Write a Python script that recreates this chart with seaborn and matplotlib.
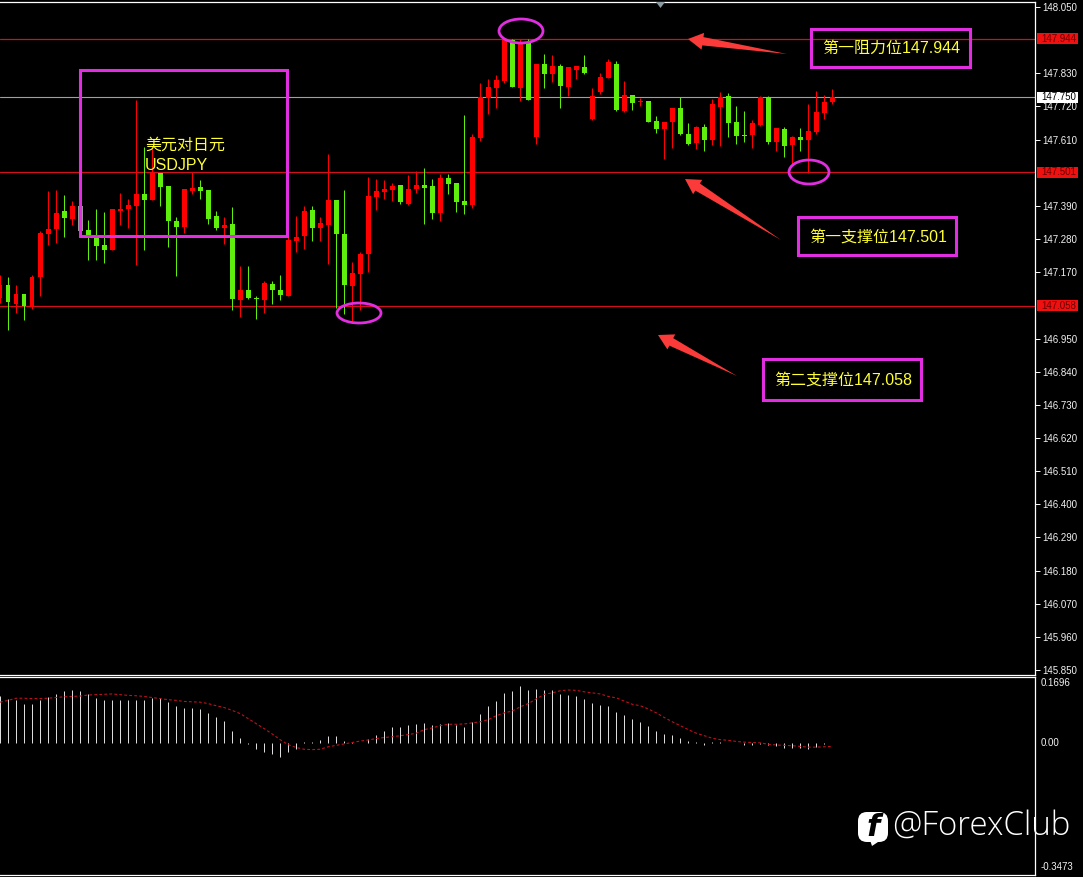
import numpy as np
import pandas as pd
import matplotlib
matplotlib.use("Agg")
import matplotlib.pyplot as plt
from matplotlib.patches import Rectangle, Ellipse, Polygon, FancyBboxPatch
from matplotlib.transforms import blended_transform_factory
import seaborn as sns

# ---- candles: (open, high, low, close) ----
OPEN = [147.083,147.128,147.065,147.098,147.056,147.153,147.297,147.312,147.372,147.348,
        147.390,147.309,147.283,147.259,147.244,147.373,147.380,147.391,147.430,147.410,
        147.500,147.456,147.340,147.321,147.440,147.454,147.443,147.357,147.317,147.330,
        147.079,147.111,147.085,147.079,147.131,147.111,147.092,147.275,147.290,147.377,
        147.317,147.327,147.410,147.297,147.124,147.164,147.231,147.420,147.436,147.443,
        147.460,147.396,147.446,147.458,147.456,147.367,147.483,147.466,147.406,147.393,
        147.614,147.749,147.781,147.805,147.941,147.781,147.930,147.619,147.861,147.828,
        147.854,147.785,147.841,147.851,147.679,147.768,147.815,147.861,147.705,147.758,
        147.735,147.738,147.672,147.645,147.669,147.715,147.629,147.599,147.652,147.609,
        147.719,147.755,147.669,147.625,147.625,147.659,147.750,147.602,147.645,147.592,
        147.619,147.609,147.635,147.698,147.735]
HIGH = [147.161,147.155,147.126,147.098,147.161,147.308,147.440,147.443,147.426,147.406,
        147.390,147.343,147.380,147.370,147.379,147.434,147.413,147.742,147.587,147.581,
        147.500,147.456,147.354,147.446,147.504,147.476,147.443,147.373,147.354,147.388,
        147.191,147.191,147.091,147.141,147.141,147.161,147.288,147.357,147.390,147.390,
        147.354,147.562,147.410,147.443,147.203,147.238,147.487,147.479,147.476,147.467,
        147.460,147.493,147.506,147.516,147.479,147.496,147.496,147.466,147.692,147.629,
        147.798,147.811,147.825,147.944,147.944,147.944,147.944,147.861,147.894,147.891,
        147.861,147.851,147.854,147.891,147.781,147.831,147.878,147.871,147.805,147.758,
        147.748,147.738,147.689,147.669,147.715,147.752,147.665,147.655,147.662,147.745,
        147.768,147.765,147.722,147.705,147.675,147.755,147.755,147.649,147.652,147.622,
        147.649,147.728,147.771,147.758,147.778]
LOW = [147.067,146.978,147.034,147.012,147.047,147.091,147.260,147.268,147.288,147.328,
       147.308,147.211,147.211,147.202,147.244,147.327,147.316,147.194,147.244,147.410,
       147.390,147.255,147.158,147.301,147.430,147.413,147.330,147.310,147.264,147.045,
       147.020,147.080,147.014,147.034,147.065,147.078,147.092,147.238,147.246,147.275,
       147.274,147.197,147.050,147.032,147.008,147.045,147.172,147.377,147.412,147.405,
       147.396,147.394,147.434,147.330,147.346,147.340,147.430,147.370,147.363,147.383,
       147.604,147.695,147.715,147.798,147.785,147.738,147.742,147.596,147.781,147.801,
       147.715,147.755,147.811,147.828,147.675,147.761,147.815,147.705,147.702,147.708,
       147.722,147.669,147.632,147.546,147.582,147.625,147.592,147.579,147.573,147.592,
       147.589,147.619,147.596,147.602,147.582,147.655,147.596,147.572,147.552,147.529,
       147.572,147.500,147.629,147.679,147.728]
CLOSE = [147.128,147.072,147.098,147.058,147.154,147.299,147.312,147.367,147.350,147.390,
         147.308,147.283,147.258,147.244,147.379,147.380,147.393,147.430,147.410,147.500,
         147.454,147.340,147.321,147.446,147.451,147.440,147.348,147.317,147.327,147.080,
         147.110,147.085,147.081,147.133,147.112,147.095,147.277,147.287,147.373,147.317,
         147.332,147.410,147.297,147.128,147.166,147.231,147.423,147.440,147.446,147.456,
         147.403,147.446,147.460,147.450,147.367,147.483,147.463,147.403,147.394,147.619,
         147.750,147.785,147.808,147.941,147.785,147.934,147.742,147.861,147.828,147.854,
         147.788,147.851,147.854,147.831,147.755,147.818,147.868,147.708,147.758,147.732,
         147.738,147.669,147.645,147.669,147.715,147.629,147.596,147.652,147.609,147.728,
         147.750,147.665,147.622,147.622,147.665,147.750,147.602,147.649,147.589,147.619,
         147.609,147.638,147.702,147.735,147.752]
NEUTRAL_BAR = 10          # the one grey candle

# ---- oscillator ----
HIST = [.1315,.122,.118,.109,.109,.120,.128,.137,.143,.148,.143,.137,.126,.118,.120,.120,.120,.120,.120,
        .125,.124,.113,.101,.098,.098,.095,.084,.072,.061,.033,.012,-.004,-.019,-.026,-.032,-.040,-.028,
        -.017,.002,.001,.008,.019,.019,.005,.002,-.002,.009,.022,.033,.044,.044,.050,.053,
        .055,.050,.053,.055,.050,.044,.058,.081,.101,.117,.140,.143,.157,.148,.151,.148,.146,.137,.134,
        .131,.123,.112,.106,.103,.086,.078,.067,.058,.047,.033,.024,.022,.013,.003,.002,-.008,.002,.002,
        0,-.002,-.008,-.008,-.004,-.008,-.011,-.015,-.015,-.015,-.017,-.013,-.004,0]
SIGNAL = [.113,.118,.124,.124,.123,.123,.124,.126,.128,.129,.130,.133,.134,.135,.136,.134,.132,.131,.129,
          .126,.123,.120,.118,.115,.114,.113,.109,.103,.098,.090,.081,.067,.053,.039,.024,.008,-.006,
          -.014,-.019,-.020,-.019,-.012,-.008,-.004,0,.004,.007,.011,.014,.016,.019,.022,.026,
          .036,.041,.047,.051,.051,.052,.055,.058,.064,.075,.083,.088,.100,.109,.122,.135,.139,.145,.147,
          .146,.142,.139,.136,.129,.125,.116,.107,.103,.094,.083,.070,.058,.047,.036,.026,.019,.012,.008,
          .006,.003,.001,0,-.001,-.005,-.007,-.008,-.009,-.011,-.013,-.013,-.012,-.011]

PRICE_TICKS = [148.050,147.830,147.720,147.610,147.390,147.280,147.170,146.950,146.840,146.730,
               146.620,146.510,146.400,146.290,146.180,146.070,145.960,145.850]
RED_LEVELS = [147.944,147.501,147.058]
LAST_PRICE = 147.750
OSC_TICKS = [0.1696,0.0,-0.3473]
OSC_LABELS = ["0.1696","0.00","-0.3473"]

UP, DOWN, GREY = "#ff0000", "#5ef00c", "#9a9a9a"
W, H = 1083, 877
BG = "#000000"
PINK = "#e02ee0"
YEL = "#ffff33"
ARROW = "#fb3a3a"
TICK_TXT = "#f2f2f2"
HIST_COL = "#dcdcdc"
TXT_FONTS = ["Liberation Sans", "Noto Sans CJK SC", "DejaVu Sans"]

sns.set_theme(style="dark", rc={"axes.facecolor": BG, "figure.facecolor": BG, "savefig.facecolor": BG,
                                "axes.grid": False, "axes.edgecolor": "white",
                                "xtick.color": "white", "ytick.color": "white"})
plt.rcParams["font.family"] = TXT_FONTS

fig = plt.figure(figsize=(W / 100, H / 100), dpi=100)
def axes_px(x0, y0, x1, y1):
    return fig.add_axes([x0 / W, 1 - y1 / H, (x1 - x0) / W, (y1 - y0) / H])

XLIM = (-0.5 / 8, 1034.5 / 8)
ax = axes_px(-0.5, 2, 1035, 674.5)
ax2 = axes_px(-0.5, 676.5, 1035, 875)

df = pd.DataFrame({"i": np.arange(len(OPEN)), "o": OPEN, "h": HIGH, "l": LOW, "c": CLOSE})
df["body_lo"] = df[["o", "c"]].min(axis=1)
df["body"] = (df["o"] - df["c"]).abs().clip(lower=0.004)
df["kind"] = np.where(df["c"] >= df["o"], "up", "down")
df.loc[NEUTRAL_BAR, "kind"] = "neutral"
palette = {"up": UP, "down": DOWN, "neutral": GREY}

for kind, colour in palette.items():
    sub = df[df["kind"] == kind]
    ax.vlines(sub["i"], sub["l"], sub["h"], color=colour, lw=0.72, zorder=2)
    sns.barplot(data=sub, x="i", y="body", bottom=sub["body_lo"].to_numpy(), native_scale=True,
                color=colour, saturation=1, errorbar=None, width=0.62, linewidth=0, ax=ax, zorder=3)
for p in ax.patches:
    p.set_antialiased(False)

for lvl in RED_LEVELS:
    ax.axhline(lvl, color="#d0101c", lw=0.9, zorder=1.5)
ax.axhline(LAST_PRICE, color="#a0a0a0", lw=0.8, zorder=1.5)

ax.set_xlim(*XLIM)
ax.set_ylim(148.05 - 672.5 / 301.4 + 5 / 301.4, 148.05 + 5 / 301.4)
ax.set_xlabel(""); ax.set_ylabel("")
ax.yaxis.tick_right()
ax.set_yticks(PRICE_TICKS, [f"{t:.3f}" for t in PRICE_TICKS])
ax.tick_params(axis="y", length=3.5, width=0.7, pad=1.5, labelsize=7.0, labelcolor=TICK_TXT)
ax.set_xticks([])
ax.spines["left"].set_visible(False)
for s in ("top", "right", "bottom"):
    ax.spines[s].set_color("white"); ax.spines[s].set_linewidth(0.9)

# coloured price tags on the right axis
trans = blended_transform_factory(ax.transAxes, ax.transData)
ax_w = 1035.5
def price_tag(level, face, ink):
    ax.add_patch(Rectangle((1 + 2 / ax_w, level - 5.5 / 301.4), 41 / ax_w, 11 / 301.4, transform=trans,
                           fc=face, ec="none", clip_on=False, zorder=5))
    ax.text(1 + 6 / ax_w, level, f"{level:.3f}", transform=trans, ha="left", va="center", fontsize=7.0,
            color=ink, clip_on=False, zorder=6)
for lvl in RED_LEVELS:
    price_tag(lvl, "#f01010", "#6a0000")
price_tag(LAST_PRICE, "white", "black")

# oscillator panel: hairline bars, the stroke gives every bar the same 1px width
sns.barplot(x=df["i"], y=HIST, native_scale=True, color=HIST_COL, saturation=1, errorbar=None,
            width=0.02, linewidth=0.72, edgecolor=HIST_COL, ax=ax2, zorder=2)
sns.lineplot(x=df["i"], y=SIGNAL, color="#c0101c", lw=0.8, ax=ax2, zorder=3,
             linestyle=(0, (2.5, 2)), errorbar=None)
ax2.set_xlim(*XLIM)
ax2.set_ylim(-132.5 / 357, 66 / 357)
ax2.set_xlabel(""); ax2.set_ylabel("")
ax2.yaxis.tick_right()
ax2.set_yticks(OSC_TICKS, OSC_LABELS)
ax2.tick_params(axis="y", length=0, pad=4, labelsize=7.0, labelcolor=TICK_TXT)
ax2.set_xticks(np.arange(1, 14) * 8)
ax2.set_xticklabels([])
ax2.tick_params(axis="x", length=2, width=0.7, color="white")
ax2.spines["left"].set_visible(False)
for s in ("top", "right", "bottom"):
    ax2.spines[s].set_color("white"); ax2.spines[s].set_linewidth(0.9)

# hand-drawn overlay, laid out in picture pixels
ov = fig.add_axes([0, 0, 1, 1], facecolor="none")
ov.set_xlim(0, W); ov.set_ylim(H, 0); ov.axis("off")
for x0, y0, x1, y1 in [(80, 70, 287, 236), (811, 29, 970, 67), (798, 217, 956, 255), (763, 359, 921, 400)]:
    ov.add_patch(Rectangle((x0, y0), x1 - x0, y1 - y0, fill=False, ec=PINK, lw=2.2))
for cx, cy, w, h in [(521, 31, 44, 24), (359, 313, 44, 20), (809, 172, 40, 24)]:
    ov.add_patch(Ellipse((cx, cy), w, h, fill=False, ec=PINK, lw=2.0))

def arrow(tip, tail):
    tip, tail = np.array(tip, float), np.array(tail, float)
    d = tail - tip; d /= np.hypot(*d)
    n = np.array([-d[1], d[0]])
    pts = [tip, tip + 15 * d + 8.5 * n, tip + 15 * d + 4.2 * n, tail,
           tip + 15 * d - 4.2 * n, tip + 15 * d - 8.5 * n]
    ov.add_patch(Polygon(pts, closed=True, fc=ARROW, ec="none"))
arrow((688, 39), (787, 54))
arrow((685, 179), (781, 240))
arrow((658, 335), (737, 376))

for x, y, s in [(822, 48, "第一阻力位147.944"), (809, 237, "第一支撑位147.501"), (774, 380, "第二支撑位147.058"),
                (145, 145, "美元对日元"), (145, 166, "USDJPY")]:
    ov.text(x, y, s, color=YEL, fontsize=11.5, ha="left", va="center")

ov.add_patch(Polygon([(656, 2), (665, 2), (660.5, 8)], closed=True, fc="#8a9aa0", ec="none"))

# watermark
ov.add_patch(FancyBboxPatch((861, 815), 24, 24, boxstyle="round,pad=3,rounding_size=9", fc="white", ec="none"))
ov.add_patch(Polygon([(870, 840), (881, 840), (872, 846)], closed=True, fc="white", ec="none"))
ov.text(873, 828, "f", color=BG, fontsize=22, fontweight="bold", style="italic", ha="center", va="center",
        family="DejaVu Sans")
ov.text(892, 826, "@ForexClub", color="white", fontsize=23.8, ha="left", va="center",
        family=["Open Sans"], fontweight="light", zorder=8)

fig.savefig("out.png", dpi=100)
